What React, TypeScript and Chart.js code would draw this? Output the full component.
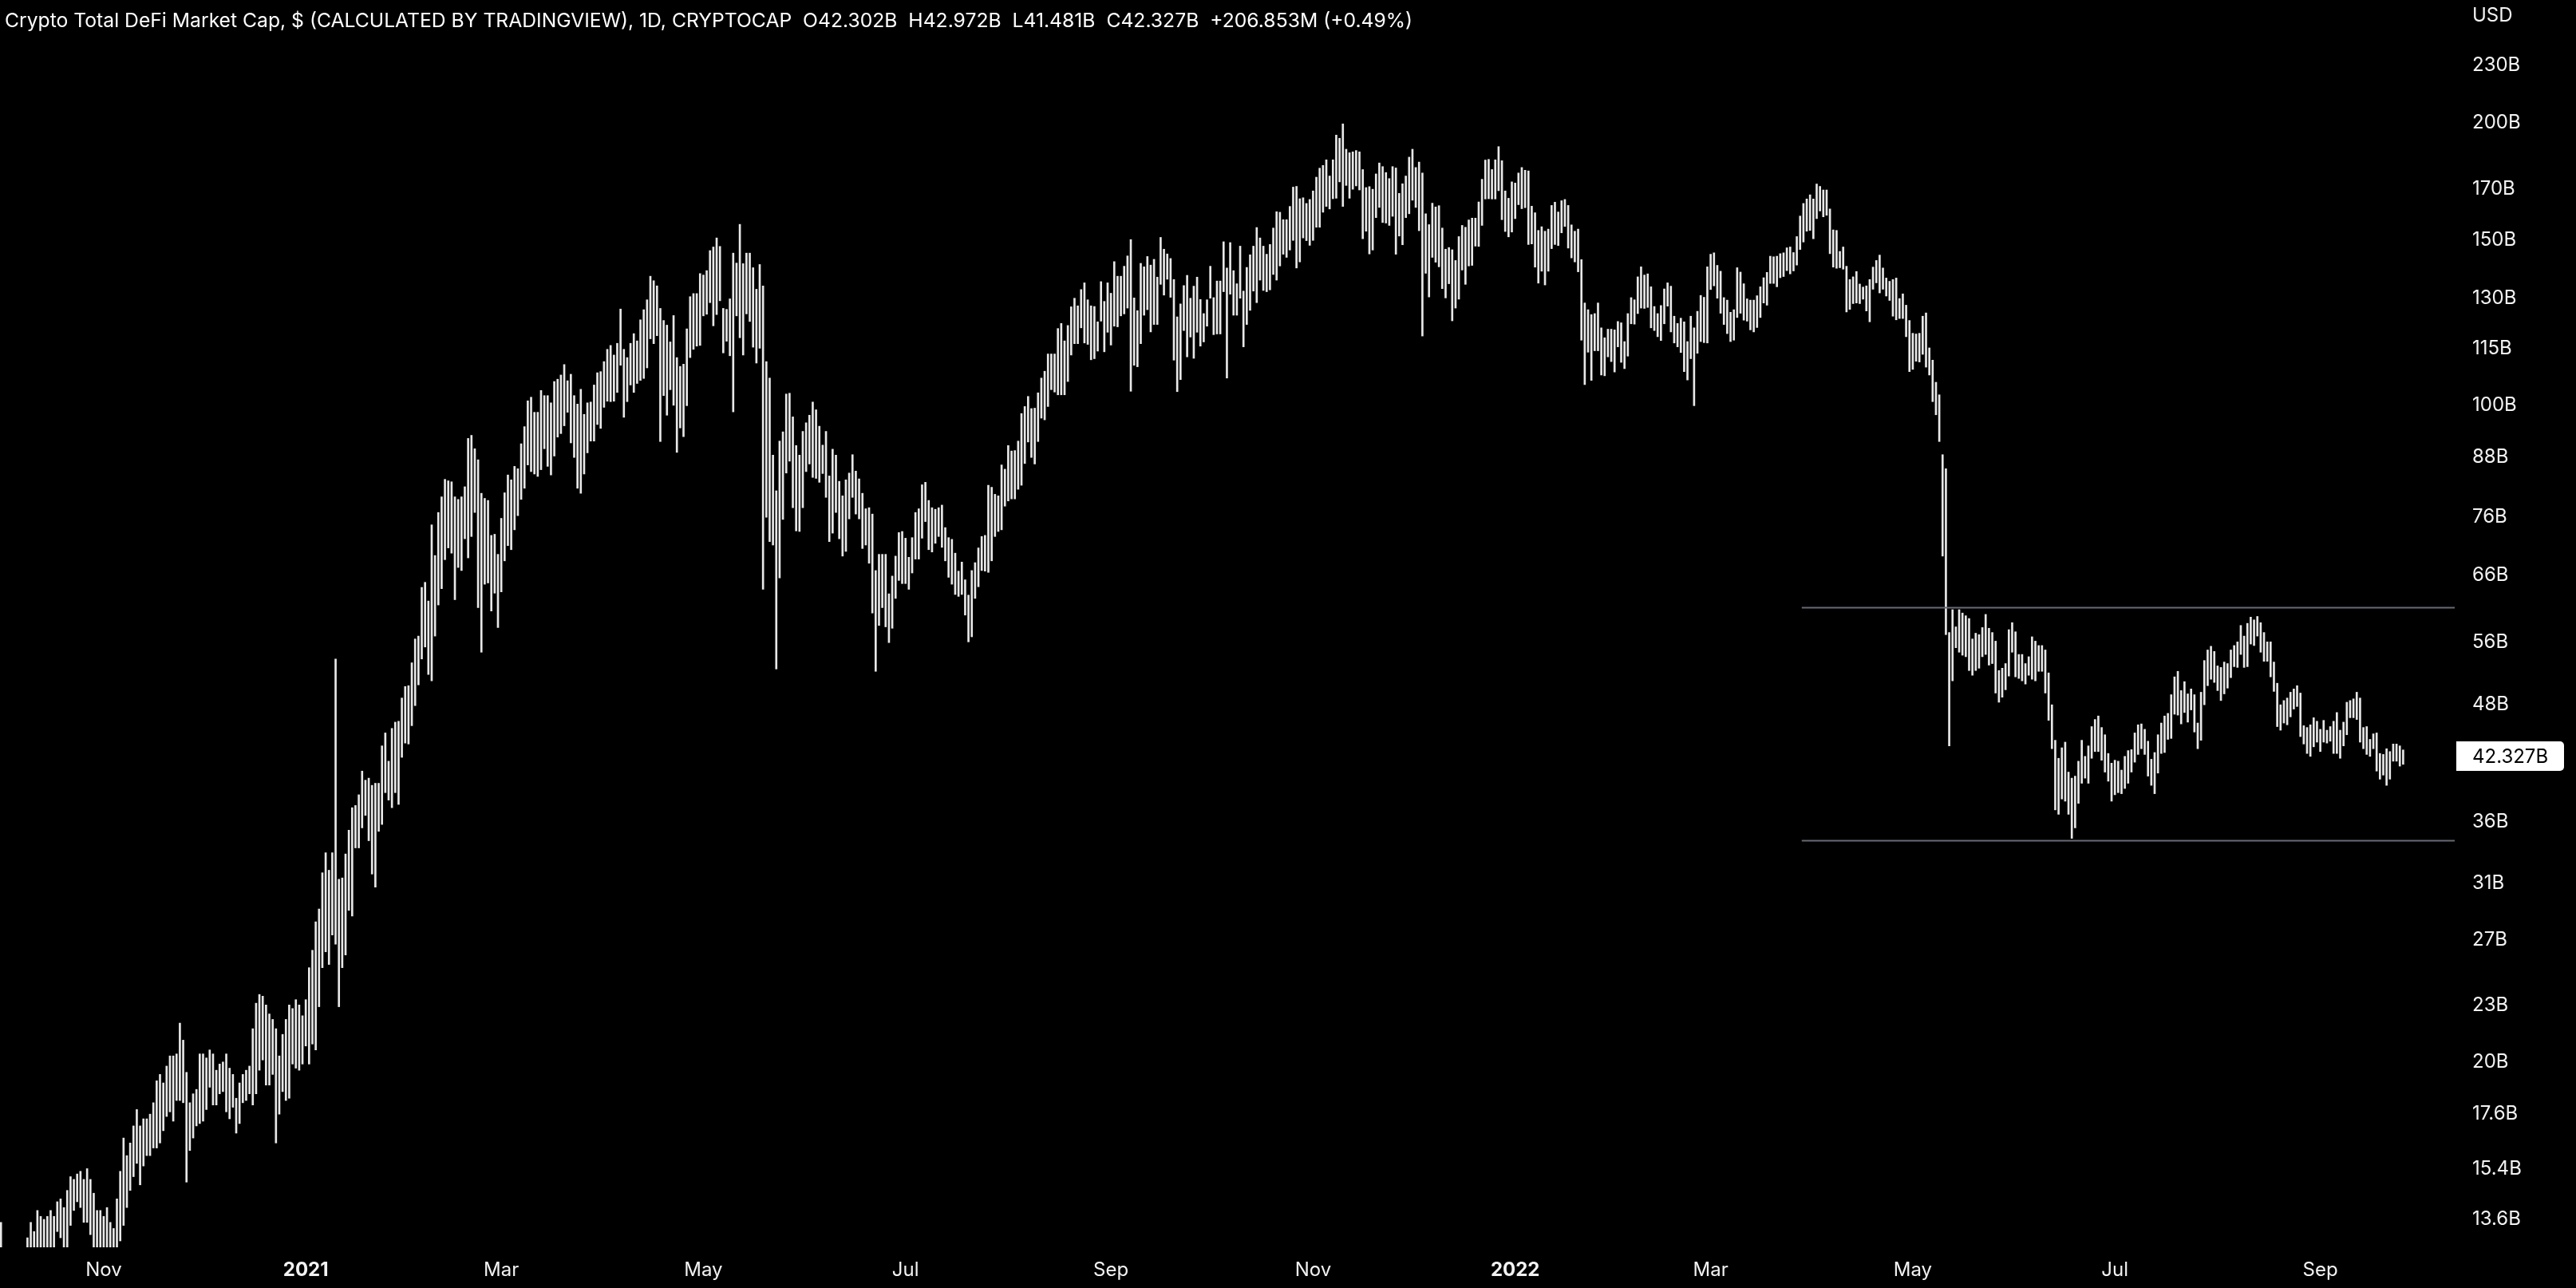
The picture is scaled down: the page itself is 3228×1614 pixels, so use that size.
import React, { useEffect, useRef } from 'react';
import { Chart, registerables } from 'chart.js';

Chart.register(...registerables);

// Daily bars, index 0 = 1 Oct 2020, last = 26 Sep 2022 (values in billions USD)
const highs: number[] = [
13.5,12.6,12.5,12.4,12.3,12.2,12.4,12.6,13.0,13.5,
13.2,13.9,13.7,13.6,13.7,13.9,13.7,14.2,14.3,14.0,
14.6,15.1,15.0,15.2,15.3,15.0,15.4,15.0,14.5,13.9,
13.9,13.7,14.0,13.5,13.3,14.3,15.3,16.6,15.9,16.4,
17.1,17.8,17.1,17.4,17.4,17.6,18.1,19.1,19.4,19.0,
19.8,20.3,20.3,20.4,22.0,21.1,19.5,18.1,18.5,18.7,
20.4,20.4,20.2,20.6,20.4,19.6,19.9,20.0,20.4,19.7,
19.4,18.3,19.0,19.4,19.6,19.8,21.7,23.1,23.6,23.5,
23.0,22.5,22.2,21.7,20.3,21.4,22.2,23.0,22.8,23.3,
23.0,22.4,23.3,25.2,26.3,28.2,29.1,31.8,33.4,32.0,
33.4,53.7,31.3,31.4,33.3,35.3,37.3,37.5,38.5,40.8,
39.9,40.1,39.4,39.6,39.6,43.4,44.8,41.8,45.3,46.0,
46.1,48.8,50.2,50.3,53.2,56.4,56.8,64.0,64.8,61.9,
74.6,69.2,76.9,79.9,83.4,83.1,82.9,79.9,79.4,79.9,
81.9,92.2,92.9,89.9,87.5,80.6,79.6,79.2,72.7,72.9,
69.4,75.8,80.7,84.3,83.3,86.1,85.6,91.0,94.9,101.1,
102.0,98.3,98.3,103.7,102.4,102.4,100.6,106.0,106.6,107.7,
110.5,106.2,107.9,102.4,100.3,104.0,97.8,100.6,100.8,105.1,
108.3,108.6,111.3,114.7,115.8,113.1,116.4,126.6,114.7,112.4,
116.4,119.2,117.1,123.3,126.4,129.5,137.2,135.7,134.0,126.8,
123.1,121.7,116.8,124.6,112.4,110.0,110.6,120.6,130.5,131.5,
131.5,138.1,137.6,139.1,146.1,147.4,150.7,147.6,126.8,126.5,
129.8,145.2,141.7,155.8,141.5,145.2,145.2,140.1,132.9,141.2,
134.0,111.3,106.9,88.5,81.1,91.6,93.7,102.8,103.0,97.2,
90.6,88.5,93.8,95.8,97.6,100.8,98.9,95.0,90.7,93.8,
84.1,89.8,88.5,83.0,80.1,83.3,84.7,88.6,85.1,83.5,
80.6,77.6,77.8,76.6,66.7,69.4,69.4,69.4,63.0,65.8,
69.1,73.2,73.4,72.2,68.9,72.3,76.9,77.6,82.3,82.8,
79.2,77.8,77.5,77.8,78.3,74.1,72.3,72.0,69.6,66.6,
68.1,65.2,62.8,66.7,68.0,70.5,72.5,72.7,82.2,81.8,
80.4,80.1,86.4,85.5,90.6,89.4,89.5,91.6,98.0,99.7,
102.2,99.2,99.3,103.1,106.9,108.7,113.4,113.4,113.4,120.7,
122.2,117.1,121.6,127.3,130.0,127.6,132.8,135.0,129.5,127.6,
127.4,122.7,135.4,129.0,135.0,131.6,142.2,137.2,137.2,140.6,
144.2,150.1,130.1,126.1,141.6,140.4,144.0,141.0,143.0,136.9,
150.9,146.6,144.9,143.3,136.1,124.2,128.2,134.1,137.5,130.0,
133.9,136.9,129.6,125.2,129.5,140.6,130.2,135.6,135.6,149.3,
140.0,149.0,139.1,134.7,147.7,132.3,140.2,144.6,147.7,154.6,
150.7,147.7,144.8,148.3,154.4,160.7,160.5,157.6,157.6,162.8,
170.7,171.0,165.9,166.3,164.0,165.6,169.1,174.9,178.8,180.0,
182.5,175.4,182.5,193.9,192.4,199.3,187.3,185.7,186.1,186.7,
186.1,178.2,170.5,170.9,169.8,176.3,181.1,179.5,176.9,174.3,
179.5,178.9,168.1,172.1,175.4,183.7,187.3,179.1,181.5,176.7,
159.9,155.7,164.1,162.6,163.1,154.4,146.6,147.2,146.4,142.6,
151.2,155.4,154.7,157.5,158.2,158.2,164.6,174.0,182.4,182.7,
178.2,182.5,188.5,182.1,169.1,166.1,172.9,172.4,176.7,179.1,
177.9,177.6,162.9,160.3,153.5,154.9,153.2,154.0,163.2,164.5,
160.6,165.1,165.6,163.2,155.6,153.2,154.0,142.9,128.5,126.4,
124.9,125.2,128.5,120.9,118.0,120.5,120.5,120.3,122.8,122.4,
116.9,125.2,130.2,129.5,137.0,140.4,137.6,138.0,133.7,127.4,
125.2,127.7,133.0,135.0,133.9,124.4,122.2,123.8,122.7,116.9,
124.4,120.9,125.9,130.9,130.3,140.4,144.8,145.3,140.9,138.9,
130.2,129.4,125.6,126.4,140.1,138.6,134.7,129.8,129.4,129.4,
130.8,133.7,136.7,138.5,144.1,143.9,144.1,145.0,145.3,147.1,
147.4,145.4,151.2,159.0,164.0,165.8,167.5,165.8,172.0,171.0,
169.5,169.5,161.8,153.7,153.5,145.8,147.4,140.6,136.1,137.0,
138.8,134.6,133.6,134.0,136.1,140.3,142.6,144.5,140.0,136.6,
135.5,136.1,136.6,129.9,131.4,127.8,123.1,119.3,119.1,119.3,
124.4,125.4,115.1,111.7,105.8,102.6,88.6,85.6,57.3,60.6,
58.1,60.6,60.1,59.7,59.3,56.4,57.2,57.0,58.0,59.9,
57.9,57.3,56.1,52.2,52.5,53.1,57.7,58.7,57.4,54.3,
54.3,53.1,54.0,56.7,56.1,55.5,55.5,54.9,51.9,48.0,
44.0,42.1,43.2,43.8,40.7,40.1,40.3,41.8,44.0,42.3,
43.4,45.5,46.3,46.7,45.4,44.6,42.6,41.6,41.9,41.8,
40.9,42.3,42.9,43.0,44.8,45.7,45.8,45.2,43.9,42.0,
42.7,44.6,45.9,46.7,47.0,49.2,51.4,52.1,49.7,50.8,
49.3,49.9,49.2,45.9,49.5,53.5,54.9,55.4,54.7,52.8,
52.6,53.3,53.1,54.9,55.5,56.0,58.3,56.8,58.6,59.5,
59.1,59.6,58.7,57.3,56.0,56.0,53.3,50.6,48.0,48.5,
48.8,49.5,49.9,50.3,49.4,45.6,45.4,45.7,46.5,46.1,
45.2,46.2,45.1,45.5,46.1,47.1,45.1,46.0,48.3,48.5,
48.7,49.5,48.8,45.4,45.5,44.1,44.7,44.8,42.6,42.5,
43.1,42.8,43.6,43.6,43.4,42.972
];

const lows: number[] = [
12.4,11.9,11.8,11.6,11.5,11.5,11.7,11.9,12.2,12.4,
12.4,12.5,12.6,12.5,12.6,12.6,12.6,13.2,13.0,12.6,
12.6,13.4,13.9,14.2,14.0,13.5,13.5,13.1,12.6,12.5,
12.6,12.5,12.6,12.4,12.4,12.6,12.9,13.4,14.0,14.6,
15.1,15.6,14.8,15.5,15.9,15.9,16.2,16.2,16.4,16.9,
17.5,17.7,17.3,18.2,18.2,18.1,14.9,16.1,16.6,17.1,
17.2,17.3,17.8,18.8,18.0,18.0,18.5,18.6,17.7,17.4,
17.9,16.8,17.2,18.1,18.2,18.5,18.0,18.5,19.6,20.1,
18.9,18.9,19.4,16.4,17.6,18.6,18.2,18.3,19.9,19.7,
19.6,19.9,20.8,19.9,20.9,20.6,22.9,25.2,26.2,25.4,
27.3,26.7,22.9,25.2,26.0,29.0,28.6,33.8,33.8,35.5,
36.6,34.4,31.7,30.7,35.2,35.8,38.7,38.0,37.3,38.7,
37.6,42.2,43.7,43.6,45.6,47.9,50.4,53.7,55.3,51.7,
50.9,56.8,61.3,63.8,68.5,70.5,69.6,62.1,67.2,66.7,
72.1,68.8,72.5,76.9,60.9,54.6,64.5,64.7,60.4,63.1,
58.0,63.3,68.3,70.9,70.2,73.7,76.3,79.4,81.6,86.4,
85.0,84.5,84.0,85.4,89.9,86.1,84.3,88.3,92.5,93.3,
95.1,98.3,91.2,88.0,81.6,80.6,84.5,89.0,91.6,91.6,
95.4,94.5,99.5,101.0,100.9,101.0,103.2,110.3,97.1,100.9,
105.1,103.2,105.5,106.3,106.8,109.6,117.7,116.3,118.6,91.5,
102.4,97.6,103.9,100.0,89.1,94.6,92.6,99.9,112.4,114.7,
115.6,115.8,124.5,125.0,128.6,121.5,124.9,129.2,113.7,117.0,
112.9,98.4,124.5,118.0,113.1,125.1,122.8,115.3,110.9,115.0,
63.7,76.0,71.6,71.0,52.4,65.5,75.6,84.7,87.2,77.8,
73.5,73.4,77.8,85.0,86.6,83.8,83.6,82.8,84.6,79.8,
71.6,73.1,76.9,72.1,69.1,69.9,75.7,79.8,76.6,75.7,
70.4,71.0,67.9,60.1,52.1,58.3,60.9,58.1,55.9,57.9,
62.3,65.1,64.6,64.6,63.7,66.3,68.6,68.6,72.2,75.2,
70.2,69.8,71.3,72.5,70.6,68.3,65.6,64.5,62.9,62.6,
62.9,59.8,56.0,56.7,62.3,64.1,66.7,66.6,66.4,68.3,
72.5,73.4,73.7,78.1,79.1,79.5,79.5,81.4,82.2,86.7,
91.4,88.0,86.6,91.5,96.9,96.5,99.7,103.9,103.3,102.6,
102.6,102.6,106.0,113.1,116.3,116.3,120.9,116.5,116.1,111.8,
112.1,114.2,122.9,114.0,119.6,115.9,121.4,121.2,124.5,125.1,
126.9,103.5,110.3,109.9,116.3,124.7,126.4,119.7,121.9,121.9,
134.5,131.0,136.2,130.3,111.7,103.4,106.5,120.1,112.6,118.2,
112.2,119.6,115.6,116.8,121.4,130.0,118.9,119.1,119.1,132.1,
106.9,131.3,124.7,124.7,130.0,115.4,121.9,126.2,132.3,128.6,
135.9,132.5,132.1,132.7,137.8,135.9,140.7,144.8,143.7,146.3,
149.8,140.0,142.1,150.7,149.7,148.0,149.8,154.7,154.7,160.5,
162.8,161.8,165.9,166.1,172.9,162.8,171.4,166.1,169.8,171.2,
169.5,150.4,153.2,144.9,146.3,158.4,162.4,156.5,156.3,155.4,
158.9,144.8,151.4,148.2,158.4,159.9,165.3,162.4,153.4,118.5,
138.2,130.4,143.7,142.0,140.4,133.1,130.1,134.7,123.0,126.9,
129.7,139.3,134.5,140.7,140.9,147.7,147.6,155.4,165.8,165.9,
165.8,165.8,169.2,157.6,153.1,151.1,152.9,158.0,163.5,161.9,
162.3,148.3,148.5,140.3,134.9,138.9,134.3,138.9,146.8,148.3,
147.9,152.6,155.0,147.0,143.5,142.1,138.7,117.3,105.2,113.9,
106.3,114.3,114.3,107.7,107.5,112.6,111.3,108.5,115.4,111.1,
109.4,112.8,122.1,122.0,125.2,126.9,126.8,127.1,120.9,120.1,
118.3,117.2,122.1,127.5,119.7,116.5,115.4,113.8,108.6,106.4,
112.1,99.9,113.6,116.9,116.6,116.5,132.8,134.0,130.0,125.3,
121.9,119.2,116.9,117.3,124.0,125.3,123.2,122.9,120.3,119.7,
121.0,124.0,128.5,127.8,134.8,134.8,133.7,136.7,137.1,139.1,
138.0,139.0,141.0,146.5,149.2,153.2,153.5,150.4,158.0,161.0,
158.7,159.3,145.0,140.3,139.9,140.1,139.6,125.7,126.5,128.3,
128.5,128.3,129.7,126.0,122.7,132.9,135.0,131.7,132.9,130.7,
129.3,124.4,123.3,123.7,123.7,118.3,108.6,109.2,111.4,111.2,
113.3,109.8,107.7,100.9,97.7,91.5,69.1,57.0,43.4,50.9,
55.2,54.6,54.2,54.0,52.2,51.6,52.2,52.5,54.0,54.3,
52.9,53.1,49.4,48.3,48.9,49.8,51.5,54.6,51.4,51.2,
50.9,50.5,51.6,51.1,50.9,52.1,52.1,49.4,46.2,43.1,
37.1,36.7,38.1,37.9,36.7,34.6,35.5,37.7,39.6,40.1,
39.6,42.1,42.8,42.8,41.9,40.7,39.8,37.9,38.5,38.7,
38.6,39.1,39.6,40.7,41.7,42.5,43.1,42.5,40.3,39.4,
38.6,40.6,42.6,42.7,44.1,44.2,46.9,46.8,45.8,47.1,
46.0,47.4,44.9,43.1,44.0,48.0,50.3,51.1,50.7,49.7,
48.5,49.3,50.0,51.3,52.7,52.6,54.3,52.6,52.7,55.7,
55.5,56.8,54.6,53.4,53.4,51.4,49.6,45.5,45.1,45.9,
45.7,46.6,47.5,47.8,44.4,43.6,42.6,42.3,43.3,43.8,
42.8,43.8,43.7,43.9,42.6,42.6,42.1,43.4,44.6,46.5,
46.5,46.3,43.8,43.1,42.5,42.3,43.1,40.8,40.0,40.4,
39.4,40.0,41.8,41.8,41.3,41.481
];

const monthTickDays = [31, 92, 151, 212, 273, 335, 396, 457, 516, 577, 638, 700];
const monthTickLabels = ['Nov', '2021', 'Mar', 'May', 'Jul', 'Sep', 'Nov', '2022', 'Mar', 'May', 'Jul', 'Sep'];
const priceTicks = [13.6, 15.4, 17.6, 20, 23, 27, 31, 36, 48, 56, 66, 76, 88, 100, 115, 130, 150, 170, 200, 230];
const levelValues = [60.9, 34.4];
const levelStartDay = 543.5;
const lastClose = 42.327;
const titleText = 'Crypto Total DeFi Market Cap, $ (CALCULATED BY TRADINGVIEW), 1D, CRYPTOCAP';
const ohlcItems = ['O42.302B', 'H42.972B', 'L41.481B', 'C42.327B', '+206.853M (+0.49%)'];

const W = 3228;
const H = 1614;
const AXIS_W = 152;
const AXIS_H = 51;
const X_MIN = -0.289;
const X_MAX = 740.56;
const Y_MIN = 12.7;
const Y_MAX = 270.0;
const FONT = 'Inter, "Noto Sans", Roboto, sans-serif';
const TEXT = '#f2f2f2';
const BAR = '#e8e8e8';
const LEVEL = '#676a74';

const lastPricePlugin = {
  id: 'lastPrice',
  afterDraw(chart: any) {
    const { ctx, chartArea, scales } = chart;
    const py = scales.y.getPixelForValue(lastClose);
    const x0 = chartArea.right + 2;
    const w = 135;
    const h = 37;
    ctx.save();
    ctx.fillStyle = '#ffffff';
    ctx.beginPath();
    if (ctx.roundRect) ctx.roundRect(x0, py - h / 2, w, h, [0, 5, 5, 0]);
    else ctx.rect(x0, py - h / 2, w, h);
    ctx.fill();
    ctx.fillStyle = '#000000';
    ctx.font = `24px ${FONT}`;
    ctx.textBaseline = 'middle';
    ctx.textAlign = 'left';
    ctx.fillText(lastClose.toFixed(3) + 'B', chartArea.right + 22, py + 1);
    ctx.restore();
  },
};

export default function App() {
  const ref = useRef<HTMLCanvasElement>(null);

  useEffect(() => {
    document.body.style.margin = '0';
    document.body.style.background = '#000';
    const canvas = ref.current;
    if (!canvas) return;
    const barData = highs.map((h, i) => ({ x: i, y: [lows[i], h] }));
    const lineSets = levelValues.map((v) => ({
      type: 'line' as const,
      data: [
        { x: levelStartDay, y: v },
        { x: X_MAX, y: v },
      ],
      borderColor: LEVEL,
      borderWidth: 2,
      pointRadius: 0,
      fill: false,
      order: 0,
    }));
    const chart = new Chart(canvas, {
      type: 'bar',
      data: {
        datasets: [
          {
            type: 'bar',
            data: barData as any,
            backgroundColor: BAR,
            borderWidth: 0,
            barThickness: 2,
            order: 1,
          } as any,
          ...(lineSets as any[]),
        ],
      },
      options: {
        responsive: false,
        maintainAspectRatio: false,
        animation: false,
        devicePixelRatio: 1,
        events: [],
        layout: { padding: 0 },
        plugins: {
          legend: { display: false },
          tooltip: { enabled: false },
          title: { display: false },
        },
        scales: {
          x: {
            type: 'linear',
            min: X_MIN,
            max: X_MAX,
            offset: false,
            grid: { display: false, drawTicks: false },
            border: { display: false },
            afterBuildTicks: (s: any) => {
              s.ticks = monthTickDays.map((v) => ({ value: v }));
            },
            afterFit: (s: any) => {
              s.height = AXIS_H;
              s.paddingLeft = 0;
              s.paddingRight = 0;
            },
            ticks: {
              autoSkip: false,
              maxRotation: 0,
              minRotation: 0,
              padding: 14,
              color: TEXT,
              font: (c: any) => ({
                family: FONT,
                size: 24,
                weight: (monthTickLabels[c.index] || '').length === 4 ? 'bold' : 'normal',
              }),
              callback: (v: any) => {
                const k = monthTickDays.indexOf(Number(v));
                return k >= 0 ? monthTickLabels[k] : '';
              },
            },
          },
          y: {
            type: 'logarithmic',
            position: 'right',
            min: Y_MIN,
            max: Y_MAX,
            grid: { display: false, drawTicks: false },
            border: { display: false },
            afterBuildTicks: (s: any) => {
              s.ticks = priceTicks.map((v) => ({ value: v }));
            },
            afterFit: (s: any) => {
              s.width = AXIS_W;
              s.paddingTop = 0;
              s.paddingBottom = 0;
            },
            ticks: {
              autoSkip: false,
              padding: 22,
              crossAlign: 'near',
              color: TEXT,
              font: { family: FONT, size: 24 },
              callback: (v: any) => `${Number(v)}B`,
            },
          },
        },
      } as any,
      plugins: [lastPricePlugin],
    });
    return () => chart.destroy();
  }, []);

  return (
    <div style={{ position: 'fixed', left: 0, top: 0, width: W, height: H, background: '#000', overflow: 'hidden' }}>
      <canvas ref={ref} width={W} height={H} style={{ display: 'block', width: W, height: H }} />
      <div
        style={{
          position: 'absolute',
          left: 6,
          top: 0,
          height: 50,
          lineHeight: '50px',
          fontFamily: FONT,
          fontSize: 24.7,
          color: '#ffffff',
          whiteSpace: 'pre',
        }}
      >
        {titleText + '  ' + ohlcItems.join('  ')}
      </div>
      <div
        style={{
          position: 'absolute',
          left: W - AXIS_W + 22,
          top: 0,
          height: 38,
          lineHeight: '38px',
          fontFamily: FONT,
          fontSize: 24,
          color: TEXT,
        }}
      >
        USD
      </div>
    </div>
  );
}
